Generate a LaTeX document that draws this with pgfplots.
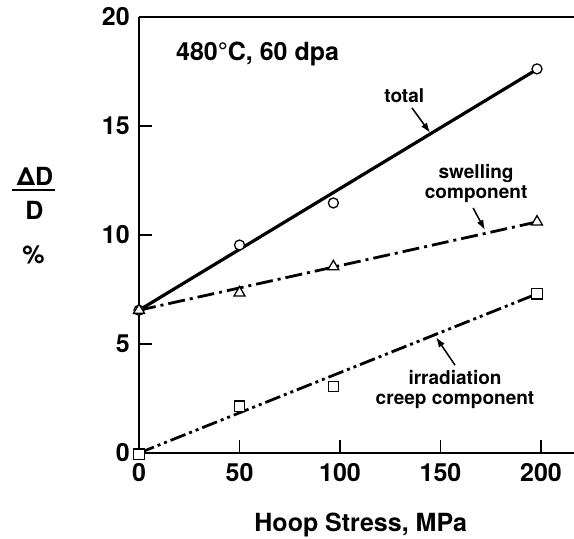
\documentclass[border=0pt]{standalone}
\usepackage{fontspec}
\setmainfont{TeX Gyre Heros}
\usepackage{pgfplots}
\usepackage{pgfplotstable}
\pgfplotsset{compat=1.18}
\usetikzlibrary{arrows.meta}

\pgfplotstableread{
x y
0 6.55
50 9.54
96.7 11.47
198 17.62
}\totaldata
\pgfplotstableread{
x y
0 6.55
50 7.35
96.7 8.55
198 10.6
}\swelldata
\pgfplotstableread{
x y
0 -0.05
50 2.15
96.7 3.05
198 7.3
}\creepdata

\begin{document}
\begin{tikzpicture}
\begin{axis}[
  name=ax,
  scale only axis, width=435pt, height=436pt,
  xmin=0, xmax=216.4, ymin=0, ymax=20,
  axis x line=box, axis y line=left,
  axis line style={-, line width=1.4pt},
  xtick pos=left,
  tick align=inside,
  major tick length=13pt,
  tick style={line width=1.2pt, black},
  xtick={0,50,100,150,200}, ytick={0,5,10,15,20},
  minor tick num=0,
  clip=false,
  /pgf/number format/assume math mode=true,
  tick label style={font=\fontsize{25}{30}\selectfont\bfseries, inner sep=0pt},
  xticklabel style={yshift=-10pt},
  yticklabel style={xshift=-9pt},
]
\addplot[line width=3.2pt, no markers] coordinates {(0,6.55) (198,17.6)};
\addplot[line width=2.8pt, no markers, dash pattern=on 17pt off 5pt on 3pt off 5pt] coordinates {(0,6.55) (198,10.6)};
\addplot[line width=2.8pt, no markers, dash pattern=on 16pt off 4pt on 3pt off 4pt on 3pt off 4pt] coordinates {(0,0) (198,7.3)};

\addplot[only marks, mark=*, mark size=5pt, mark options={fill=white, draw=black, line width=1.3pt}] table {\totaldata};
\addplot[only marks, mark=triangle*, mark size=6.3pt, mark options={fill=white, draw=black, line width=1.3pt}] table {\swelldata};
\addplot[only marks, mark=square*, mark size=5.2pt, mark options={fill=white, draw=black, line width=1.3pt}] table {\creepdata};

\node[anchor=west, inner sep=0, font=\fontsize{25}{30}\selectfont\bfseries] at (axis cs:18.4,18.31) {480°C, 60 dpa};

\node[inner sep=0, font=\fontsize{19}{20}\selectfont\bfseries] at (axis cs:132,16.4) {total};
\node[inner sep=0, align=center, font=\fontsize{19}{20}\selectfont\bfseries] at (axis cs:167.7,12.38) {swelling\\component};
\node[inner sep=0, align=center, font=\fontsize{19}{20}\selectfont\bfseries] at (axis cs:157.2,2.91) {irradiation\\creep component};

\draw[line width=1.5pt, -{Latex[length=10pt,width=7pt]}] (axis cs:135.8,15.83) -- (axis cs:144.8,14.69);
\draw[line width=1.5pt, -{Latex[length=10pt,width=7pt]}] (axis cs:166.2,11.24) -- (axis cs:172.1,10.23);
\draw[line width=1.5pt, -{Latex[length=10pt,width=7pt]}] (axis cs:157.2,4.03) -- (axis cs:147.8,5.31);

\node[inner sep=0, font=\fontsize{25}{30}\selectfont\bfseries] at (axis cs:-51.7,12.71) {ΔD};
\draw[line width=1.3pt] (axis cs:-63.2,12.06) -- (axis cs:-41.8,12.06);
\node[inner sep=0, font=\fontsize{25}{30}\selectfont\bfseries] at (axis cs:-52,11.13) {D};
\node[inner sep=0, font=\fontsize{25}{30}\selectfont\bfseries] at (axis cs:-52.5,9.1) {\%};

\node[anchor=north, inner sep=0, yshift=-60pt, font=\fontsize{25}{30}\selectfont\bfseries] at (axis cs:110.3,0) {Hoop Stress, MPa};
\end{axis}
\pgfresetboundingbox
\path[use as bounding box] ([xshift=-139pt,yshift=-85.3pt]ax.south west) rectangle ([yshift=17pt]ax.north east);
\end{tikzpicture}
\end{document}
